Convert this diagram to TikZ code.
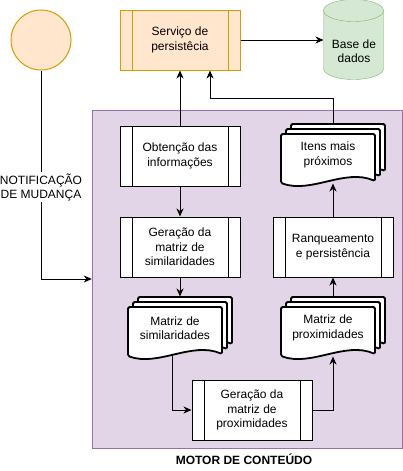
\documentclass[tikz,border=0pt]{standalone}
\usepackage{fontspec}
\setmainfont{Liberation Sans}
\usetikzlibrary{positioning, arrows.meta}
\usetikzlibrary{backgrounds}
\definecolor{orangefill}{HTML}{FFE6CC}
\definecolor{orangeline}{HTML}{D79B00}
\definecolor{greenfill}{HTML}{D5E8D4}
\definecolor{greenline}{HTML}{82B366}
\definecolor{purplefill}{HTML}{E1D5E7}
\definecolor{purpleline}{HTML}{9673A6}
\tikzset{
	process/.style={draw, rectangle, fill=white, minimum width=120pt, minimum height=60pt, inner sep=2pt, align=center,
		path picture={
			\draw ([xshift=12pt]path picture bounding box.north west) -- ([xshift=12pt]path picture bounding box.south west);
			\draw ([xshift=-12pt]path picture bounding box.north east) -- ([xshift=-12pt]path picture bounding box.south east);
		}},
	service/.style={process, fill=orangefill, draw=orangeline},
	start/.style={draw=orangeline, fill=orangefill, circle, minimum size=60pt, inner sep=0pt},
	% database: node is the body below the top ellipse, outline drawn behind
	database/.style={rectangle, minimum width=60pt, minimum height=58pt, inner sep=2pt, align=center},
	cyl/.style={draw=greenline, fill=greenfill},
	panel/.style={draw=purpleline, fill=purplefill, rectangle, minimum width=310pt, minimum height=338pt},
	% document stacks: node is the bounding box, pages drawn behind
	stack/.style={rectangle, minimum width=104pt, minimum height=62pt, inner sep=0pt},
	stacktext/.style={align=center, xshift=-5pt, yshift=0pt},
	page/.style={draw, fill=white, line width=1.8pt, rounded corners=1.5pt},
	note/.style={fill=white, align=center, inner sep=1pt},
}
\newcommand{\docpage}[2]{%
	\draw[page] (#1,#2+49) -- (#1,#2) -- (#1+94,#2) -- (#1+94,#2+47)
		.. controls (#1+64,#2+34) and (#1+30,#2+60) .. (#1,#2+49) -- cycle;}
\newcommand{\docstack}[1]{%
	\begin{scope}[shift={(#1.center)}]
		\docpage{-42}{-31}\docpage{-47}{-26}\docpage{-52}{-21}
	\end{scope}}

\begin{document}
\begin{tikzpicture}[x=1pt, y=-1pt, line width=1pt,
	every node/.style={font=\fontsize{12}{14.5}\selectfont},
	>={Stealth[length=8pt, width=7pt, inset=2.5pt]}]
	\useasboundingbox (0,0) rectangle (403,471);

	\node (serv) [service] at (180,40) {Serviço de\\persistêcia};
	\node (notif) [start, left=48pt of serv] {};
	\node (db) [database] at (354,51) {Base de\\dados};

	\node (obt) [process, below=55pt of serv] {Obtenção das\\informações};
	\node (gsim) [process, below=30pt of obt] {Geração da\\matriz de\\similaridades};
	\node (msim) [stack, below=19pt of gsim, label={[stacktext]center:Matriz de\\similaridades}] {};
	\node (gprox) [process, below=20pt of msim, xshift=72pt] {Geração da\\matriz de\\proximidades};
	\node (mprox) [stack, right=48pt of msim, label={[stacktext]center:Matriz de\\proximidades}] {};
	\node (ranq) [process, above=19pt of mprox] {Ranqueamento\\e persistência};
	\node (itens) [stack, above=30pt of ranq, label={[stacktext]center:Itens mais\\próximos}] {};

	\begin{scope}[on background layer]
		\node (motor) [panel] at (247,279) {};
		\docstack{msim}
		\docstack{mprox}
		\docstack{itens}
		\begin{scope}[shift={(db.north west)}]
			\draw[cyl] (0,-11) -- (0,47) arc[start angle=180, end angle=360, x radius=30pt, y radius=11pt]
				-- (60,-11) arc[start angle=0, end angle=180, x radius=30pt, y radius=11pt] -- cycle;
			\draw[cyl, fill=none] (0,-11) arc[start angle=180, end angle=360, x radius=30pt, y radius=11pt];
		\end{scope}
	\end{scope}
	\node (motorlbl) [below=2pt of motor, xshift=-3pt, font=\fontsize{12}{14.5}\selectfont\bfseries] {MOTOR DE CONTEÚDO};

	\begin{scope}[->]
		\draw (notif) |- (motor) node (notiflbl) [note, pos=0.28] {NOTIFICAÇÃO\\DE MUDANÇA};
		\draw (serv) -- (serv.east -| db.west);
		\draw (obt) -- (serv);
		\draw (itens.north) -- ++(0,-25) -| ([xshift=30pt]serv.south);
		\draw (obt) -- (gsim);
		\draw (gsim) -- (msim);
		\draw ([xshift=-8pt, yshift=4pt]msim.south) |- (gprox);
		\draw (gprox) -| ([yshift=3pt]mprox.south);
		\draw (mprox) -- (ranq);
		\draw (ranq) -- ([yshift=3pt]itens.south);
	\end{scope}
\end{tikzpicture}
\end{document}
